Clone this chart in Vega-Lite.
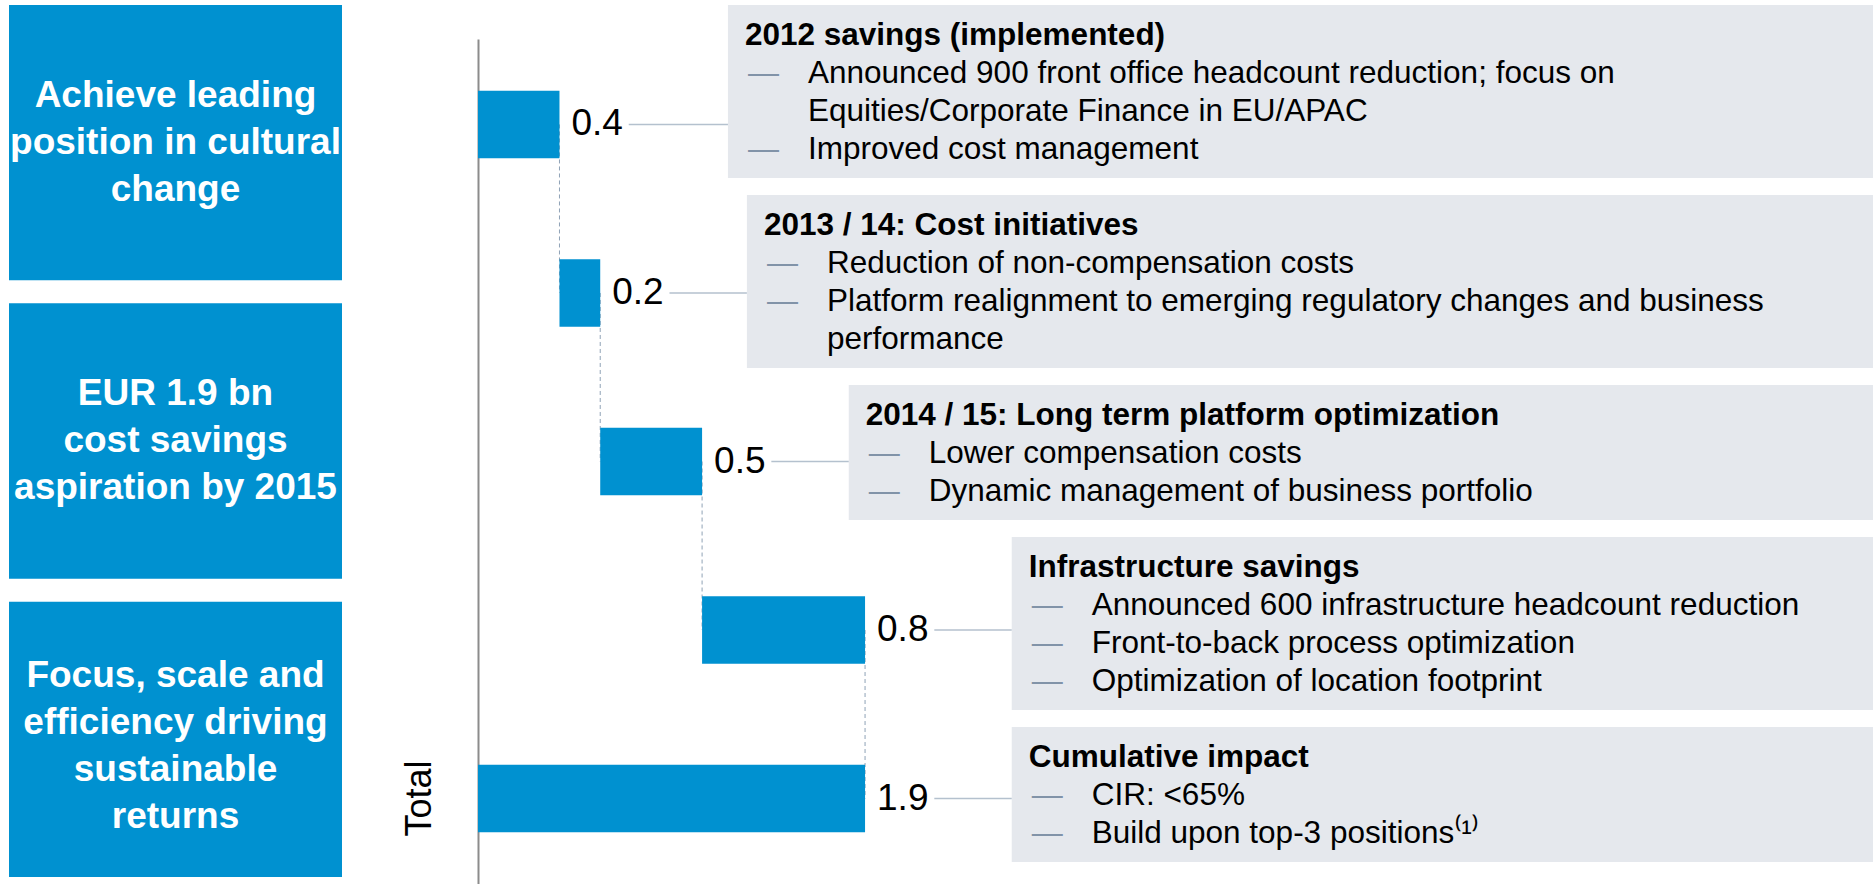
{
  "$schema": "https://vega.github.io/schema/vega-lite/v6.json",
  "padding": {"left": 9, "top": 5, "right": 0, "bottom": 0},
  "background": "white",
  "bounds": "flush",
  "spacing": 136,
  "config": {"view": {"stroke": null}, "font": "Liberation Sans"},
  "datasets": {
    "aims": [
      {"aim": "Achieve leading position in cultural change", "lines": ["Achieve leading", "position in cultural", "change"]},
      {"aim": "EUR 1.9 bn cost savings aspiration by 2015", "lines": ["EUR 1.9 bn", "cost savings", "aspiration by 2015"]},
      {"aim": "Focus, scale and efficiency driving sustainable returns", "lines": ["Focus, scale and", "efficiency driving", "sustainable", "returns"]}
    ],
    "steps": [
      {"step": "2012", "kind": "step", "value": 0.4, "title": "2012 savings (implemented)", "lines": ["Announced 900 front office headcount reduction; focus on", "Equities/Corporate Finance in EU/APAC", "Improved cost management"], "bullet": [true, false, true]},
      {"step": "2013/14", "kind": "step", "value": 0.2, "title": "2013 / 14: Cost initiatives", "lines": ["Reduction of non-compensation costs", "Platform realignment to emerging regulatory changes and business", "performance"], "bullet": [true, true, false]},
      {"step": "2014/15", "kind": "step", "value": 0.5, "title": "2014 / 15: Long term platform optimization", "lines": ["Lower compensation costs", "Dynamic management of business portfolio"], "bullet": [true, true]},
      {"step": "Infrastructure", "kind": "step", "value": 0.8, "title": "Infrastructure savings", "lines": ["Announced 600 infrastructure headcount reduction", "Front-to-back process optimization", "Optimization of location footprint"], "bullet": [true, true, true]},
      {"step": "Total", "kind": "total", "value": 1.9, "title": "Cumulative impact", "lines": ["CIR: <65%", "Build upon top-3 positions⁽¹⁾"], "bullet": [true, true]}
    ]
  },
  "hconcat": [
    {
      "width": 333,
      "height": 872,
      "data": {"name": "aims"},
      "encoding": {
        "y": {"field": "aim", "type": "nominal", "sort": null, "axis": null, "scale": {"paddingInner": 0.077, "paddingOuter": 0}}
      },
      "layer": [
        {"mark": {"type": "rect", "color": "#0091D0"}},
        {
          "transform": [{"filter": "length(datum.lines) == 3"}],
          "mark": {"type": "text", "color": "white", "fontSize": 37, "fontWeight": "bold", "lineHeight": 47, "align": "center", "baseline": "middle", "dy": -47},
          "encoding": {"text": {"field": "lines", "type": "nominal"}}
        },
        {
          "transform": [{"filter": "length(datum.lines) == 4"}],
          "mark": {"type": "text", "color": "white", "fontSize": 37, "fontWeight": "bold", "lineHeight": 47, "align": "center", "baseline": "middle", "dy": -63},
          "encoding": {"text": {"field": "lines", "type": "nominal"}}
        }
      ]
    },
    {
      "width": 1395,
      "height": 879,
      "data": {"name": "steps"},
      "transform": [
        {"window": [{"op": "sum", "field": "value", "as": "cum"}, {"op": "lead", "field": "step", "as": "next"}], "frame": [null, 0]},
        {"calculate": "datum.kind == 'total' ? 0 : datum.cum - datum.value", "as": "start"},
        {"calculate": "datum.start + datum.value", "as": "end"},
        {"calculate": "max(datum.end + 0.72, 1.227)", "as": "anchor"},
        {"calculate": "datum.end + 0.34", "as": "lead_from"},
        {"calculate": "length(datum.lines) + 1.55", "as": "box_h"},
        {"calculate": "datum.box_h + 0.45", "as": "box_step"},
        {"window": [{"op": "sum", "field": "box_step", "as": "box_cum"}], "frame": [null, 0]},
        {"calculate": "datum.box_cum - datum.box_step", "as": "box_top"},
        {"calculate": "datum.box_top + datum.box_h", "as": "box_bottom"},
        {"calculate": "datum.box_top + 1.05", "as": "title_y"}
      ],
      "resolve": {"scale": {"y": "independent"}, "axis": {"y": "independent"}},
      "layer": [
        {
          "layer": [
            {
              "mark": {"type": "rect", "color": "#E5E8ED"},
              "encoding": {
                "x": {"field": "anchor", "type": "quantitative", "scale": {"domain": [0, 6.848], "nice": false, "zero": true}, "axis": null},
                "x2": {"datum": 6.848},
                "y": {"field": "box_top", "type": "quantitative", "scale": {"domain": [0, 23.1316], "reverse": true, "nice": false, "zero": false}, "axis": null},
                "y2": {"field": "box_bottom"}
              }
            },
            {
              "mark": {"type": "text", "align": "left", "baseline": "alphabetic", "dx": 17, "fontSize": 31.5, "fontWeight": "bold", "color": "#000000"},
              "encoding": {
                "x": {"field": "anchor", "type": "quantitative", "axis": null},
                "y": {"field": "title_y", "type": "quantitative", "axis": null},
                "text": {"field": "title", "type": "nominal"}
              }
            },
            {
              "transform": [
                {"flatten": ["lines", "bullet"], "as": ["line", "is_bullet"]},
                {"window": [{"op": "row_number", "as": "k"}], "groupby": ["step"]},
                {"calculate": "datum.title_y + datum.k", "as": "line_y"},
                {"filter": "datum.is_bullet"}
              ],
              "mark": {"type": "text", "align": "left", "baseline": "alphabetic", "dx": 20, "fontSize": 31, "color": "#8193A8"},
              "encoding": {
                "x": {"field": "anchor", "type": "quantitative", "axis": null},
                "y": {"field": "line_y", "type": "quantitative", "axis": null},
                "text": {"value": "—"}
              }
            },
            {
              "transform": [
                {"flatten": ["lines", "bullet"], "as": ["line", "is_bullet"]},
                {"window": [{"op": "row_number", "as": "k"}], "groupby": ["step"]},
                {"calculate": "datum.title_y + datum.k", "as": "line_y"}
              ],
              "mark": {"type": "text", "align": "left", "baseline": "alphabetic", "dx": 80, "fontSize": 31.5, "color": "#000000"},
              "encoding": {
                "x": {"field": "anchor", "type": "quantitative", "axis": null},
                "y": {"field": "line_y", "type": "quantitative", "axis": null},
                "text": {"field": "line", "type": "nominal"}
              }
            }
          ]
        },
        {
          "encoding": {
            "y": {
              "field": "step", "type": "nominal", "sort": null,
              "scale": {"range": [34, 879], "paddingInner": 0.6, "paddingOuter": 0.307},
              "axis": {
                "title": null, "ticks": false, "grid": false,
                "domainColor": "#8C8C8C", "domainWidth": 2,
                "labelExpr": "datum.value == 'Total' ? 'Total' : ''",
                "labelAngle": 270, "labelAlign": "center", "labelBaseline": "alphabetic",
                "labelPadding": 48, "labelFontSize": 36, "labelColor": "#000000", "labelFont": "Liberation Sans"
              }
            }
          },
          "layer": [
            {
              "transform": [{"filter": "isValid(datum.next)"}],
              "mark": {"type": "rule", "color": "#8FA2B6", "strokeWidth": 1, "strokeDash": [4, 3]},
              "encoding": {
                "x": {"field": "end", "type": "quantitative", "axis": null},
                "y2": {"field": "next"}
              }
            },
            {
              "mark": {"type": "bar", "color": "#0091D0"},
              "encoding": {
                "x": {"field": "start", "type": "quantitative", "axis": null},
                "x2": {"field": "end"}
              }
            },
            {
              "mark": {"type": "text", "align": "left", "baseline": "middle", "dx": 12, "fontSize": 37, "color": "#000000"},
              "encoding": {
                "x": {"field": "end", "type": "quantitative", "axis": null},
                "text": {"field": "value", "type": "quantitative", "format": ".1f"}
              }
            },
            {
              "mark": {"type": "rule", "color": "#B4C1CE", "strokeWidth": 1.5},
              "encoding": {
                "x": {"field": "lead_from", "type": "quantitative", "axis": null},
                "x2": {"field": "anchor"}
              }
            }
          ]
        }
      ]
    }
  ]
}
